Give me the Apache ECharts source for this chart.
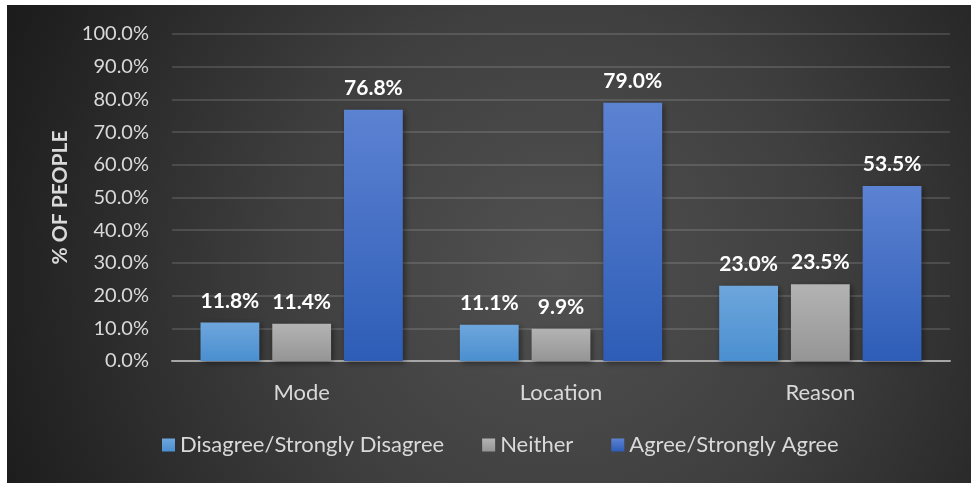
<!DOCTYPE html>
<html>
<head>
<meta charset="utf-8">
<script src="https://cdn.jsdelivr.net/npm/echarts@6/dist/echarts.min.js"></script>
<style>
  html, body { margin: 0; padding: 0; background: #ffffff; }
  #chart { position: absolute; left: 7px; top: 5px; width: 964px; height: 478px; }
</style>
</head>
<body>
<div id="chart"></div>
<script>
const categories = ['Mode', 'Location', 'Reason'];
const seriesNames = ['Disagree/Strongly Disagree', 'Neither', 'Agree/Strongly Agree'];
const disagree = [11.8, 11.1, 23.0];
const neither = [11.4, 9.9, 23.5];
const agree = [76.8, 79.0, 53.5];
const yTicks = [0, 10, 20, 30, 40, 50, 60, 70, 80, 90, 100];

const FONT = 'Lato';
const chart = echarts.init(document.getElementById('chart'), null, { renderer: 'canvas' });

function grad(top, bottom) {
  return new echarts.graphic.LinearGradient(0, 0, 0, 1, [
    { offset: 0, color: top }, { offset: 1, color: bottom }
  ]);
}

const labelCfg = {
  show: true, position: 'top', distance: 11,
  color: '#ffffff', fontFamily: FONT, fontWeight: 'bold', fontSize: 21,
  formatter: p => p.value.toFixed(1) + '%'
};
const shadow = { shadowBlur: 6, shadowColor: 'rgba(0,0,0,0.45)', shadowOffsetX: 2, shadowOffsetY: 2 };

const colors = [
  grad('#6ea6dc', '#4a8fd0'),
  grad('#b3b3b3', '#959595'),
  grad('#5c82d2', '#2e5db7')
];
const values = [disagree, neither, agree];

chart.setOption({
  backgroundColor: {
    type: 'radial', x: 0.57, y: 0.55, r: 1.25,
    colorStops: [
      { offset: 0, color: '#515151' },
      { offset: 0.45, color: '#3f3f3f' },
      { offset: 1, color: '#1c1c1c' }
    ]
  },
  animation: false,
  grid: { left: 165, right: 21, top: 29, bottom: 122 },
  legend: {
    bottom: 22, left: 150,
    itemWidth: 13, itemHeight: 13, itemGap: 38,
    icon: 'rect',
    data: seriesNames,
    textStyle: { color: '#d9d9d9', fontFamily: FONT, fontSize: 22 }
  },
  xAxis: {
    type: 'category', data: categories,
    axisLine: { lineStyle: { color: '#a6a6a6', width: 2 } },
    axisTick: { show: false },
    axisLabel: { color: '#d9d9d9', fontFamily: FONT, fontSize: 22, margin: 21 }
  },
  yAxis: {
    type: 'value', min: yTicks[0], max: yTicks[yTicks.length - 1], interval: 10,
    name: '% OF PEOPLE', nameLocation: 'middle', nameRotate: 90, nameGap: 101,
    nameTextStyle: { color: '#d9d9d9', fontFamily: FONT, fontWeight: 'bold', fontSize: 21 },
    axisLine: { show: false }, axisTick: { show: false },
    axisLabel: { color: '#d9d9d9', fontFamily: FONT, fontSize: 20, margin: 23,
      formatter: v => v.toFixed(1) + '%' },
    splitLine: { lineStyle: { color: 'rgba(255,255,255,0.13)', width: 2 } }
  },
  series: seriesNames.map((name, i) => ({
    name, type: 'bar', data: values[i],
    barGap: '22%', barCategoryGap: '22%',
    itemStyle: Object.assign({ color: colors[i] }, shadow),
    label: labelCfg
  }))
});
</script>
</body>
</html>
